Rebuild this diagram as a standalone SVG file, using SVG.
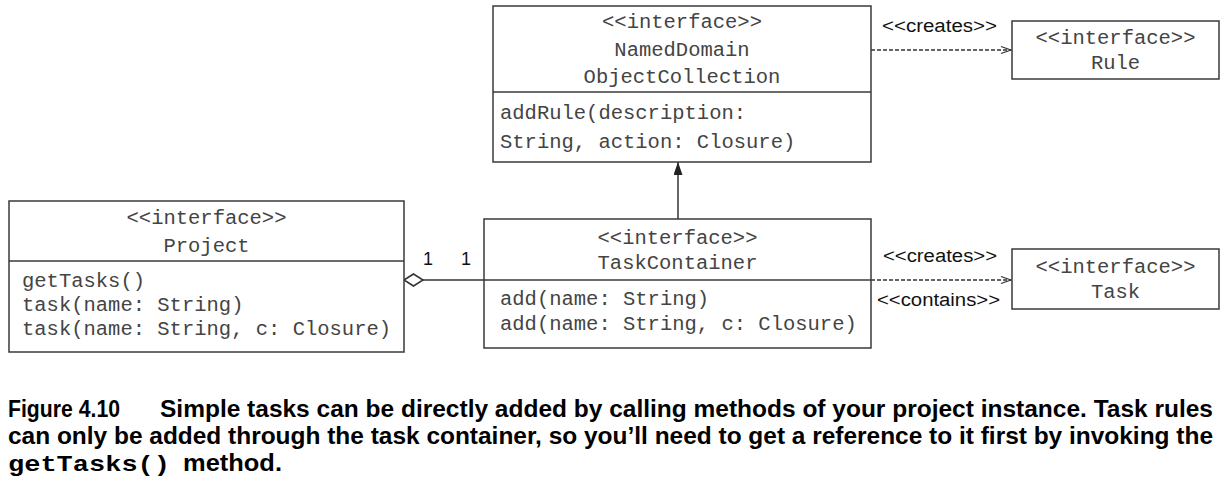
<svg xmlns="http://www.w3.org/2000/svg" width="1225" height="491" viewBox="0 0 1225 491">
<style>
.box{fill:#fff;stroke:#3a3a3a;stroke-width:1.5}
.div{stroke:#3a3a3a;stroke-width:1.5}
.mono{font-family:"Liberation Mono","Courier New",monospace;font-size:20.5px;fill:#444}
.c{text-anchor:middle}
.lbl{font-family:"Liberation Sans",Arial,sans-serif;font-size:18px;fill:#111}
.ln{stroke:#333;stroke-width:1.5;fill:none}
.dash{stroke:#333;stroke-width:1.3;fill:none;stroke-dasharray:4 2}
.cap{font-family:"Liberation Sans",Arial,sans-serif;font-weight:bold;font-size:23px;fill:#000}
.capm{font-family:"Liberation Mono","Courier New",monospace;font-weight:bold;font-size:22px;fill:#000}
</style>
<defs>
<marker id="open" markerWidth="12" markerHeight="10" refX="11" refY="5" orient="auto" markerUnits="userSpaceOnUse">
<path d="M1,1.5 L11,5 L1,8.5" fill="none" stroke="#333" stroke-width="1.3"/>
</marker>
<marker id="filled" markerWidth="14" markerHeight="10" refX="13" refY="4.5" orient="auto" markerUnits="userSpaceOnUse">
<path d="M0,0 L13,4.5 L0,9 Z" fill="#222"/>
</marker>
</defs>

<g id="connectors">
<line class="ln" x1="678" y1="219" x2="678" y2="162" marker-end="url(#filled)"/>
<line class="ln" x1="423" y1="280" x2="484" y2="280"/>
<path d="M404,280 L413.5,274 L423,280 L413.5,286 Z" fill="#fff" stroke="#333" stroke-width="1.5"/>
<line class="dash" x1="871" y1="50" x2="1011" y2="50" marker-end="url(#open)"/>
<line class="dash" x1="871" y1="280" x2="1011" y2="280" marker-end="url(#open)"/>
<text class="lbl" x="423" y="265">1</text>
<text class="lbl" x="461" y="265">1</text>
<text class="lbl" x="882" y="32" textLength="115" lengthAdjust="spacingAndGlyphs">&lt;&lt;creates&gt;&gt;</text>
<text class="lbl" x="883" y="262" textLength="114" lengthAdjust="spacingAndGlyphs">&lt;&lt;creates&gt;&gt;</text>
<text class="lbl" x="877" y="306" textLength="123" lengthAdjust="spacingAndGlyphs">&lt;&lt;contains&gt;&gt;</text>
</g>

<g id="ndoc">
<rect class="box" x="493" y="6" width="378" height="156"/>
<line class="div" x1="493" y1="92" x2="871" y2="92"/>
<text class="mono c" x="682" y="28">&lt;&lt;interface&gt;&gt;</text>
<text class="mono c" x="682" y="56">NamedDomain</text>
<text class="mono c" x="682" y="83">ObjectCollection</text>
<text class="mono" x="500" y="119">addRule(description:</text>
<text class="mono" x="500" y="148">String, action: Closure)</text>
</g>

<g id="rule">
<rect class="box" x="1012" y="21" width="207" height="58"/>
<text class="mono c" x="1115.5" y="44">&lt;&lt;interface&gt;&gt;</text>
<text class="mono c" x="1115.5" y="69">Rule</text>
</g>

<g id="project">
<rect class="box" x="9" y="201" width="395" height="151"/>
<line class="div" x1="9" y1="261" x2="404" y2="261"/>
<text class="mono c" x="206.5" y="224">&lt;&lt;interface&gt;&gt;</text>
<text class="mono c" x="206.5" y="252">Project</text>
<text class="mono" x="22" y="287">getTasks()</text>
<text class="mono" x="22" y="311">task(name: String)</text>
<text class="mono" x="22" y="335">task(name: String, c: Closure)</text>
</g>

<g id="taskcontainer">
<rect class="box" x="484" y="219" width="387" height="129"/>
<line class="div" x1="484" y1="280" x2="871" y2="280"/>
<text class="mono c" x="677.5" y="244">&lt;&lt;interface&gt;&gt;</text>
<text class="mono c" x="677.5" y="269">TaskContainer</text>
<text class="mono" x="500" y="305">add(name: String)</text>
<text class="mono" x="500" y="330">add(name: String, c: Closure)</text>
</g>

<g id="task">
<rect class="box" x="1012" y="249" width="207" height="60"/>
<text class="mono c" x="1115.5" y="273">&lt;&lt;interface&gt;&gt;</text>
<text class="mono c" x="1115.5" y="298">Task</text>
</g>

<g id="caption">
<text class="cap" x="8" y="417" textLength="112" lengthAdjust="spacingAndGlyphs">Figure 4.10</text>
<text class="cap" x="160" y="417" textLength="1053" lengthAdjust="spacingAndGlyphs">Simple tasks can be directly added by calling methods of your project instance. Task rules</text>
<text class="cap" x="8" y="444" textLength="1205" lengthAdjust="spacingAndGlyphs">can only be added through the task container, so you’ll need to get a reference to it first by invoking the</text>
<text class="capm" x="8" y="471" textLength="162" lengthAdjust="spacingAndGlyphs">getTasks()</text>
<text class="cap" x="183" y="471" textLength="99" lengthAdjust="spacingAndGlyphs">method.</text>
</g>
</svg>
